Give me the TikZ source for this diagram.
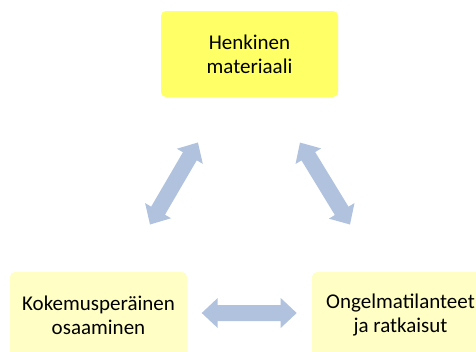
\documentclass[tikz,border=0pt]{standalone}
\usepackage{fontspec}
\setmainfont{Carlito}
\definecolor{topfill}{RGB}{255,255,102}
\definecolor{lowfill}{RGB}{255,255,197}
\definecolor{arrowfill}{RGB}{176,194,222}
\begin{document}
\begin{tikzpicture}[x=1pt,y=-1pt,
  box/.style={rounded corners=5pt, align=center, font=\fontsize{21}{24}\selectfont,
    inner sep=0pt, text=black, minimum width=177pt, minimum height=86pt},
  dbl/.pic={\fill[arrowfill] (0,0) -- (16,15) -- (16,8) -- ({#1-16},8) -- ({#1-16},15)
     -- (#1,0) -- ({#1-16},-15) -- ({#1-16},-8) -- (16,-8) -- (16,-15) -- cycle;}]
\useasboundingbox (0,0) rectangle (476,351);
\clip (0,0) rectangle (476,351);
\node[box, fill=topfill] (hm) at (249.5,54) {Henkinen\\materiaali};
\node[box, fill=lowfill] (ko) at (98.5,315) {Kokemusperäinen\\osaaminen};
\node[box, fill=lowfill] (on) at (400.5,315) {Ongelmatilanteet\\ja ratkaisut};
\path (150,224.5) pic[rotate=59.7] {dbl=95};
\path (350,224.5) pic[rotate=121.4] {dbl=96};
\path (201.7,313) pic {dbl=95};
\end{tikzpicture}
\end{document}
